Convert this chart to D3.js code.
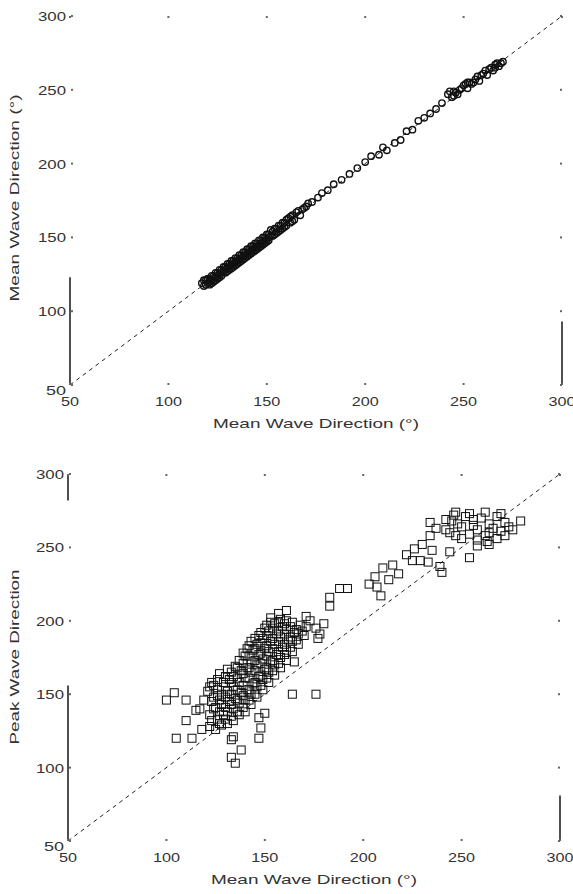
<!DOCTYPE html>
<html>
<head>
<meta charset="utf-8">
<script src="https://cdn.jsdelivr.net/npm/d3@7"></script>
<style>
body{margin:0;background:#fff;}
text{font-family:"Liberation Sans",Arial,sans-serif;fill:#333;}
</style>
</head>
<body>
<svg id="fig" width="573" height="894"></svg>
<script>
// tick labels
var tickValues=[50,100,150,200,250,300];

// upper plot: mean wave direction, measured vs model
var topX=[117,118,119,120,121,121,122,123,123,124,125,125,126,127,127,128,129,129,130,131,131,132,133,133,134,135,135,136,137,137,138,139,139,140,141,141,142,143,143,144,145,145,146,147,147,148,149,149,150,151,151,152,153,154,155,156,157,158,159,160,161,162,163,164,166,167,169,171,173,176,178,181,184,188,192,196,200,203,207,209,211,215,218,221,224,227,230,233,236,239,242,243,245,246,248,249,250,252,253,254,256,257,258,260,261,262,264,265,266,268,269,270,
118,119,120,121,122,122,124,124,125,126,126,127,128,129,130,130,131,132,132,133,134,134,135,136,136,137,138,138,139,140,140,141,142,142,143,144,144,145,146,146,147,148,148,150,150,151,152,153,154,155,156,157,158,159,160,162,163,165,168,170,245,247,251,255,259,263,267,244,252,266];
var topY=[119,117,121,119,122,118,121,124,120,123,126,122,125,128,124,127,130,126,129,132,128,131,134,130,133,136,132,135,138,134,137,140,136,139,142,138,141,144,140,143,146,142,145,148,144,147,150,146,149,152,148,151,154,152,156,154,158,156,160,158,163,160,165,162,168,165,170,173,174,177,180,182,186,189,193,197,201,205,206,211,209,214,216,222,223,229,231,234,237,241,247,249,246,248,250,251,253,251,255,254,257,259,256,261,263,260,265,263,267,266,268,269,
121,118,122,120,124,119,121,126,124,128,123,126,130,128,127,132,130,134,129,132,136,131,134,138,133,136,140,135,138,142,137,140,144,139,142,146,141,144,148,143,146,150,145,152,147,150,155,151,156,153,158,155,160,157,162,164,161,167,169,171,249,247,254,255,260,264,268,245,255,265];

// lower plot: mean wave direction vs peak wave direction
var botX=[122,122,123,121,123,125,126,125,126,124,128,129,128,128,129,127,131,131,132,131,132,131,134,134,135,134,134,135,137,137,138,137,138,137,140,140,141,140,141,140,141,143,143,144,143,143,144,143,146,146,147,146,147,146,147,149,149,150,149,150,149,150,152,152,153,152,153,152,153,155,155,156,155,156,155,158,158,159,158,159,158,161,161,162,161,161,164,164,165,164,165,167,167,168,170,171,
123,124,124,122,127,127,127,126,126,130,130,130,130,130,133,133,133,133,133,136,136,136,136,136,139,139,139,139,139,139,142,142,142,142,142,142,145,145,145,145,145,145,148,148,148,148,148,148,151,151,151,151,151,151,154,154,154,154,154,157,157,157,157,157,160,160,160,160,163,163,163,166,166,169,
100,104,110,115,110,105,113,118,117,119,133,134,138,133,135,147,148,147,150,164,176,153,157,161,171,176,178,177,183,183,188,192,180,173,206,207,209,210,215,218,213,203,225,229,233,226,230,235,239,240,234,222,242,245,247,250,252,254,256,258,260,262,264,266,268,270,272,274,276,258,263,250,268,246,254,262,270,256,264,248,244,272,254,258,264,244,234,242,247,237,280];
var botY=[128,136,145,152,158,126,133,141,149,156,129,136,143,150,158,164,130,138,145,152,160,167,132,140,147,155,162,169,136,144,151,158,166,173,138,146,153,161,168,176,181,143,150,157,165,172,180,186,148,155,162,170,177,184,190,153,160,167,174,181,188,195,158,165,172,179,186,193,199,163,170,177,184,191,198,168,175,182,189,196,201,173,180,187,194,200,179,186,192,199,172,184,191,197,190,196,
132,140,148,155,130,138,146,153,160,133,141,148,155,162,135,143,150,158,165,138,146,153,161,168,141,149,156,164,171,178,146,153,161,168,176,183,150,158,166,173,181,188,156,163,171,178,185,192,161,168,176,183,190,197,166,173,181,188,195,171,179,186,193,199,177,184,191,198,182,189,196,187,194,193,
146,151,146,139,132,120,120,126,140,146,119,121,112,107,103,134,127,120,137,150,150,202,205,207,203,195,191,188,210,216,222,222,198,200,230,223,217,236,238,232,228,225,241,241,240,249,252,248,237,233,258,245,262,268,258,264,271,259,265,262,270,258,266,263,271,261,267,264,262,255,254,256,256,272,273,274,273,269,260,266,260,258,243,251,252,247,267,269,274,263,268];

var svg=d3.select("#fig");

function drawPanel(g,xr,yr,ylab,ylabLen,ylabY,axisSegs){
    var x=d3.scaleLinear().domain([50,300]).range(xr);
    var y=d3.scaleLinear().domain([50,300]).range(yr);

    //1:1 line
    g.append("line")
        .attr("x1",x(50)).attr("y1",y(50))
        .attr("x2",x(300)).attr("y2",y(300))
        .attr("stroke","#222").attr("stroke-width",1)
        .attr("stroke-dasharray","4,4");

    //visible axis pieces
    axisSegs.forEach(function(s){
        var xx=s[0]=="L"?x(50):x(300);
        g.append("line")
            .attr("x1",xx).attr("x2",xx)
            .attr("y1",y(s[1])).attr("y2",y(s[2]))
            .attr("stroke","#222").attr("stroke-width",1.6);
    });

    //tick dots
    tickValues.forEach(function(v){
        g.append("rect").attr("x",x(50)+1).attr("y",y(v)-1).attr("width",2).attr("height",2).attr("fill","#666");
        g.append("rect").attr("x",x(300)-2).attr("y",y(v)-1).attr("width",2).attr("height",2).attr("fill","#666");
        g.append("rect").attr("x",x(v)-1).attr("y",y(50)-2).attr("width",2).attr("height",2).attr("fill","#666");
        g.append("rect").attr("x",x(v)-1).attr("y",y(300)).attr("width",2).attr("height",2).attr("fill","#666");
    });

    //tick labels
    g.selectAll(".xl").data(tickValues).enter().append("text")
        .attr("x",function(d){return x(d);})
        .attr("y",y(50)+21)
        .attr("text-anchor","middle")
        .attr("font-size",13)
        .attr("textLength",function(d){return d<100?18:27;})
        .attr("lengthAdjust","spacingAndGlyphs")
        .text(function(d){return d;});
    g.selectAll(".yl").data(tickValues).enter().append("text")
        .attr("x",x(50)-4)
        .attr("y",function(d){return y(d)+5+(d==50?5:0);})
        .attr("text-anchor","end")
        .attr("font-size",13)
        .attr("textLength",function(d){return d<100?20:28;})
        .attr("lengthAdjust","spacingAndGlyphs")
        .text(function(d){return d;});

    //axis titles
    g.append("text")
        .attr("x",(xr[0]+xr[1])/2).attr("y",y(50)+43)
        .attr("text-anchor","middle").attr("font-size",13)
        .attr("textLength",206).attr("lengthAdjust","spacingAndGlyphs")
        .text("Mean Wave Direction (\u00b0)");
    g.append("text")
        .attr("transform","translate(19,"+ylabY+") rotate(-90)")
        .attr("text-anchor","middle").attr("font-size",13)
        .attr("textLength",ylabLen).attr("lengthAdjust","spacingAndGlyphs")
        .text(ylab);
    return {x:x,y:y};
}

//upper plot
var g1=svg.append("g");
var s1=drawPanel(g1,[70,562],[385,16],"Mean Wave Direction (\u00b0)",207,198,[["L",50,123],["R",50,93]]);
g1.selectAll("circle").data(d3.range(topX.length)).enter().append("circle")
    .attr("cx",function(i){return s1.x(topX[i]);})
    .attr("cy",function(i){return s1.y(topY[i]);})
    .attr("r",3.2)
    .attr("fill","none")
    .attr("stroke","#111")
    .attr("stroke-width",1.4);

//lower plot
var g2=svg.append("g");
var s2=drawPanel(g2,[68,560],[841,474],"Peak Wave Direction",175,657,[["L",50,156],["L",282,300],["R",50,81]]);
g2.selectAll("rect.m").data(d3.range(botX.length)).enter().append("rect")
    .attr("class","m")
    .attr("x",function(i){return s2.x(botX[i])-4;})
    .attr("y",function(i){return s2.y(botY[i])-4;})
    .attr("width",8).attr("height",8)
    .attr("fill","none")
    .attr("stroke","#111")
    .attr("stroke-width",1);
</script>
</body>
</html>
